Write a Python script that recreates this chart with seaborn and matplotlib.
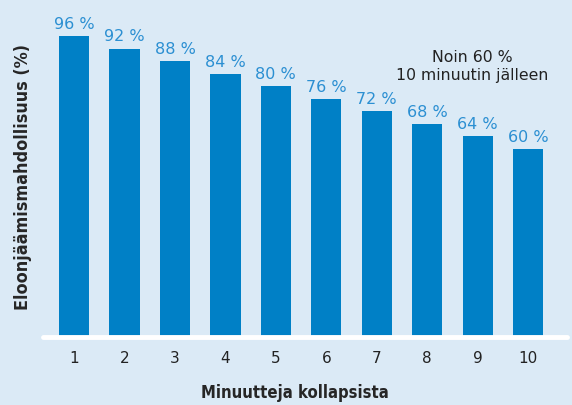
#!/usr/bin/env python3
"""Survival chance by minutes after collapse - bar chart."""

import matplotlib
matplotlib.use("Agg")
import matplotlib.pyplot as plt
import seaborn as sns

minutes = ["1", "2", "3", "4", "5", "6", "7", "8", "9", "10"]
survival = [96, 92, 88, 84, 80, 76, 72, 68, 64, 60]
bar_labels = [f"{v} %" for v in survival]

BG = "#dbeaf6"
BAR = "#0080c6"
LABEL_BLUE = "#2b8fd2"

sns.set_style("white")
plt.rcParams["font.family"] = ["DejaVu Sans"]

fig = plt.figure(figsize=(5.72, 4.05), dpi=100, facecolor=BG)
ax = fig.add_axes([0.0752, 0.1679, 0.916, 0.774])
ax.set_facecolor(BG)

sns.barplot(x=minutes, y=survival, order=minutes, color=BAR, saturation=1,
            width=0.6, linewidth=0, edgecolor=BAR, ax=ax)

ax.set_xlim(-0.615, 9.77)
ax.set_ylim(0, 100)
for s in ax.spines.values():
    s.set_visible(False)
ax.axhline(0, color="white", lw=3.5, clip_on=False, zorder=5)

ax.set_yticks([])
ax.tick_params(axis="x", length=0, pad=10, labelsize=11, labelcolor="#222222")
ax.set_xlabel("")

for i, (v, lab) in enumerate(zip(survival, bar_labels)):
    ax.annotate(lab, (i, v), xytext=(0, 3), textcoords="offset points",
                ha="center", va="bottom", fontsize=11.5, color=LABEL_BLUE)

narrow = ["Liberation Sans Narrow", "DejaVu Sans"]
fig.text(0.515, 0.03, "Minuutteja kollapsista", ha="center", va="center",
         fontsize=12, fontweight="bold", family=narrow, fontstretch="condensed")
fig.text(0.04, 0.562, "Eloonjäämismahdollisuus (%)", rotation=90,
         ha="center", va="center", fontsize=12.9, fontweight="bold",
         family=narrow, fontstretch="condensed")

fig.text(0.825, 0.836, "Noin 60 %\n10 minuutin jälleen", ha="center",
         va="center", fontsize=11.3, color="#222222", linespacing=1.3)

plt.savefig("out.png", dpi=100, facecolor=BG)
plt.close()
